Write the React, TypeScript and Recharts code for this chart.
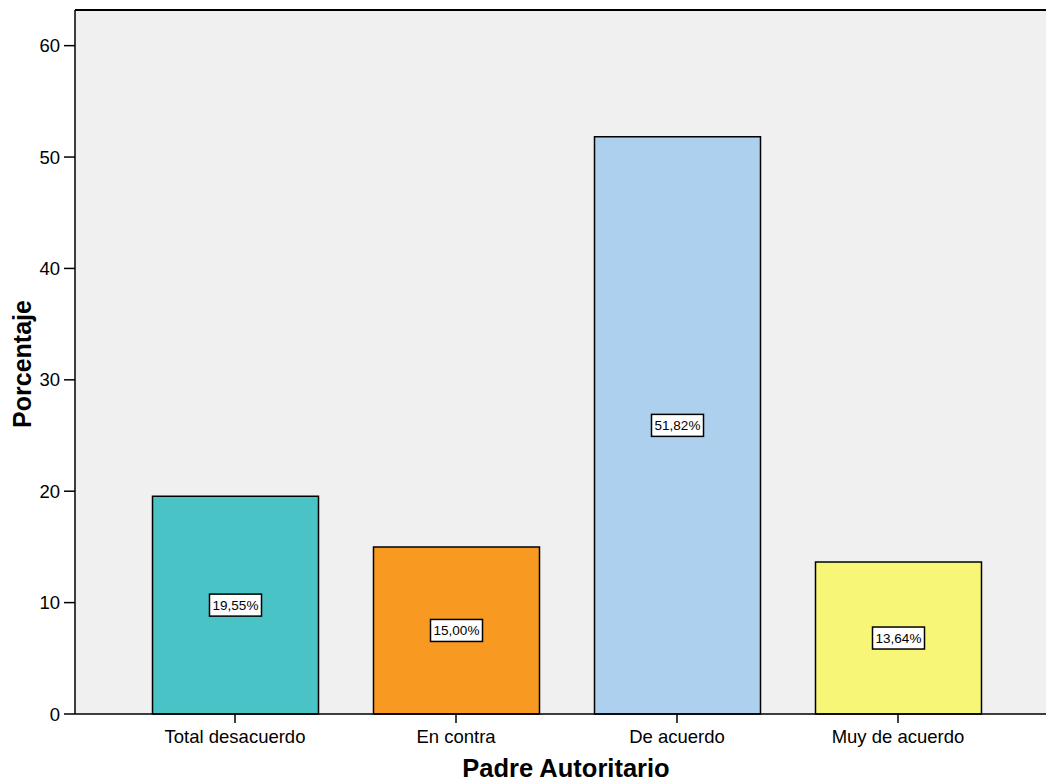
import React from 'react';
import { BarChart, Bar, XAxis, YAxis, CartesianGrid, LabelList, ReferenceLine, Cell } from 'recharts';

const categories = ['Total desacuerdo', 'En contra', 'De acuerdo', 'Muy de acuerdo'];
const percentages = [19.55, 15.0, 51.82, 13.64];
const percentLabels = ['19,55%', '15,00%', '51,82%', '13,64%'];
const barColors = ['#4ac3c7', '#f89a22', '#acd0ee', '#f8f677'];
const yTicks = [0, 10, 20, 30, 40, 50, 60];

const data = categories.map((c, i) => ({ name: c, value: percentages[i], label: percentLabels[i] }));

const FONT = 'Liberation Sans, Arial, sans-serif';

const BoxLabel = (props: any) => {
  const { x, y, width, height, index } = props;
  const cx = x + width / 2;
  const cy = y + height / 2;
  const w = 52;
  const h = 22;
  return (
    <g>
      <rect x={cx - w / 2} y={cy - h / 2} width={w} height={h} fill="#ffffff" stroke="#000" strokeWidth={1.5} />
      <text x={cx} y={cy + 5} textAnchor="middle" fontSize={13.5} fontFamily={FONT} fill="#000">
        {percentLabels[index]}
      </text>
    </g>
  );
};

export default function App() {
  return (
    <div style={{ position: 'absolute', left: 0, top: 0, width: 1046, height: 782, overflow: 'hidden', background: '#fff' }}>
      <BarChart width={1046} height={782} data={data} margin={{ top: 10, right: 0, bottom: 0, left: 0 }}>
        <CartesianGrid fill="#f0f0f0" stroke="none" horizontal={false} vertical={false} />
        <XAxis
          dataKey="name"
          height={68}
          padding={{ left: 49.5, right: 37.5 }}
          tickSize={9}
          tickMargin={7}
          stroke="#000"
          strokeWidth={1.5}
          tick={{ fill: '#000', fontSize: 18.5, fontFamily: FONT }}
          label={(p: any) => (
            <text x={566} y={777} textAnchor="middle" fontSize={25.5} fontWeight="bold" fontFamily={FONT} fill="#000">
              Padre Autoritario
            </text>
          )}
        />
        <YAxis
          width={75}
          domain={[0, 63.2]}
          ticks={yTicks}
          tickSize={11}
          tickMargin={4}
          stroke="#000"
          strokeWidth={1.5}
          tick={{ fill: '#000', fontSize: 18.5, fontFamily: FONT }}
          label={(p: any) => (
            <text x={31} y={364} textAnchor="middle" transform="rotate(-90, 31, 364)" fontSize={25} fontWeight="bold" fontFamily={FONT} fill="#000">
              Porcentaje
            </text>
          )}
        />
        <ReferenceLine y={63.2} stroke="#000" strokeWidth={2} />
        <Bar dataKey="value" barSize={166} stroke="#000" strokeWidth={1.5} isAnimationActive={false}>
          {data.map((d, i) => (
            <Cell key={i} fill={barColors[i]} />
          ))}
          <LabelList dataKey="label" content={BoxLabel} />
        </Bar>
      </BarChart>
    </div>
  );
}
